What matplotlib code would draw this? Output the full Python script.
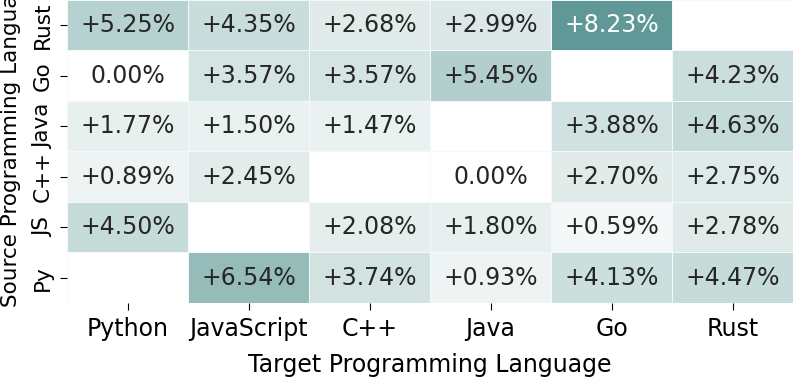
import numpy as np
import matplotlib
matplotlib.use("Agg")
import matplotlib.pyplot as plt
import seaborn as sns
from matplotlib.colors import LinearSegmentedColormap

targets = ["Python", "JavaScript", "C++", "Java", "Go", "Rust"]
sources = ["Rust", "Go", "Java", "C++", "JS", "Py"]

# improvement (%) per source row / target column, nan on the diagonal
rust_row = [5.25, 4.35, 2.68, 2.99, 8.23, np.nan]
go_row = [0.00, 3.57, 3.57, 5.45, np.nan, 4.23]
java_row = [1.77, 1.50, 1.47, np.nan, 3.88, 4.63]
cpp_row = [0.89, 2.45, np.nan, 0.00, 2.70, 2.75]
js_row = [4.50, np.nan, 2.08, 1.80, 0.59, 2.78]
py_row = [np.nan, 6.54, 3.74, 0.93, 4.13, 4.47]

data = np.array([rust_row, go_row, java_row, cpp_row, js_row, py_row])


def fmt(v):
    if np.isnan(v):
        return ""
    if v == 0:
        return "0.00%"
    return "+%.2f%%" % v


labels = np.array([[fmt(v) for v in row] for row in data])

cmap = LinearSegmentedColormap.from_list("teal", [
    (0.0, "#ffffff"),
    (0.108, "#eef4f4"),
    (0.326, "#e0ebea"),
    (0.563, "#c4dbda"),
    (0.662, "#b2cfcd"),
    (0.795, "#96bcba"),
    (1.0, "#5f9896"),
])

fs = 17
fig = plt.figure(figsize=(7.93, 3.82), dpi=100)
ax = fig.add_axes([0.0845, 0.207, 0.9155, 0.793])
sns.heatmap(data, ax=ax, annot=labels, fmt="", cmap=cmap, vmin=0, vmax=8.23,
            cbar=False, linewidths=0.5, linecolor="#f4f8f8",
            annot_kws={"fontsize": fs}, xticklabels=targets, yticklabels=sources)

ax.tick_params(axis="x", labelsize=fs, rotation=0, length=5, pad=5)
ax.tick_params(axis="y", labelsize=15.5, length=5, pad=5)
plt.setp(ax.get_yticklabels(), rotation=90, va="center")
ax.set_xlabel("Target Programming Language", fontsize=fs, labelpad=9)
ax.set_ylabel("Source Programming Language", fontsize=15.5)
ax.yaxis.set_label_coords(-0.064, 0.545)

fig.savefig("out.png", dpi=100)
